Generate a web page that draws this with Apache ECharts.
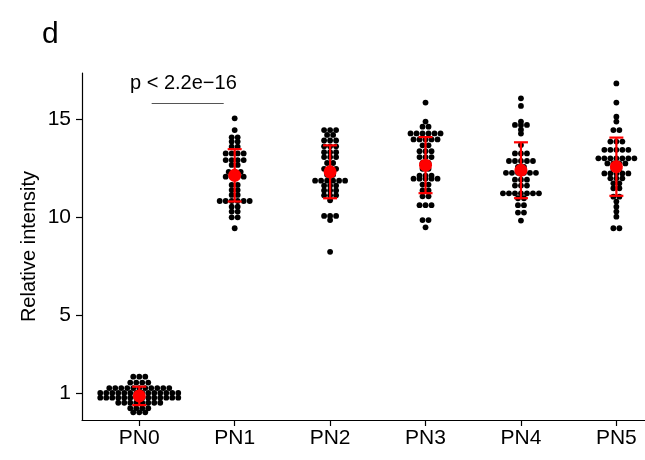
<!DOCTYPE html>
<html>
<head>
<meta charset="utf-8">
<script src="https://cdn.jsdelivr.net/npm/echarts@6/dist/echarts.min.js"></script>
<style>
  html, body { margin: 0; padding: 0; background: #fff; }
  #chart { width: 645px; height: 460px; }
</style>
</head>
<body>
<div id="chart"></div>
<script>
// Groups shown along the x axis
const groups = ['PN0', 'PN1', 'PN2', 'PN3', 'PN4', 'PN5'];

// Relative intensity of each measured cell; equal values share one row of the dot plot
const pn0 = [
  1.85, 1.85, 1.85,
  1.55, 1.55, 1.55, 1.55,
  1.27, 1.27, 1.27, 1.27, 1.27, 1.27, 1.27, 1.27, 1.27, 1.27, 1.27,
  1.02, 1.02, 1.02, 1.02, 1.02, 1.02, 1.02, 1.02, 1.02, 1.02, 1.02, 1.02, 1.02, 1.02,
  0.78, 0.78, 0.78, 0.78, 0.78, 0.78, 0.78, 0.78, 0.78, 0.78, 0.78, 0.78, 0.78, 0.78,
  0.52, 0.52, 0.52, 0.52, 0.52, 0.52, 0.52, 0.52,
  0.24, 0.24, 0.24, 0.24,
  0.03, 0.03, 0.03
];
const pn1 = [
  15.03, 14.43, 14.06, 14.06, 13.84, 13.84, 13.58, 13.58,
  13.24, 13.24, 13.24, 13.24, 12.9, 12.9, 12.9, 12.9,
  12.65, 12.65, 12.3, 12.3, 12.3, 12.05, 12.05, 12.05, 12.05,
  11.63, 11.63, 11.37, 11.37, 11.12, 11.12,
  10.81, 10.81, 10.81, 10.81, 10.81, 10.81,
  10.52, 10.52, 10.27, 10.27, 9.98, 9.98, 9.42
];
const pn2 = [
  14.43, 14.43, 14.43, 14.18, 14.18, 13.9, 13.9, 13.9,
  13.6, 13.6, 13.6, 13.3, 13.3, 13.3, 13.05, 13.05, 13.05,
  12.75, 12.75, 12.45, 12.45, 12.45, 12.15, 12.15,
  11.85, 11.85, 11.85, 11.85, 11.85, 11.85,
  11.6, 11.6, 11.6, 11.35, 11.35, 11.35, 11.1, 11.1, 11.1,
  10.85, 10.05, 10.05, 10.05, 9.84, 8.22
];
const pn3 = [
  15.83, 14.86, 14.6, 14.6,
  14.26, 14.26, 14.26, 14.26, 14.26, 14.26,
  13.95, 13.95, 13.95, 13.95, 13.95,
  13.65, 13.65, 13.35, 13.35, 13.35, 13.05, 13.05, 13.05,
  12.75, 12.75, 12.45, 12.45, 12.1, 12.1, 12.1,
  11.95, 11.95, 11.95, 11.95, 11.95,
  11.65, 11.65, 11.35, 11.35, 11.05, 11.05,
  10.6, 10.6, 10.6, 9.84, 9.84, 9.47
];
const pn4 = [
  16.05, 15.66, 14.86, 14.69, 14.69, 14.69, 14.45, 14.25, 13.67,
  13.24, 13.24, 13.24, 12.85, 12.85, 12.85, 12.85, 12.85,
  12.55, 12.55, 12.25, 12.25, 12.25, 12.25, 12.25, 12.25,
  11.9, 11.9, 11.9, 11.6, 11.6, 11.6,
  11.2, 11.2, 11.2, 11.2, 11.2, 11.2, 11.2,
  10.95, 10.95, 10.6, 10.6, 10.22, 10.22, 9.81
];
const pn5 = [
  16.81, 15.83, 15.11, 14.86, 14.43, 14.43,
  13.84, 13.84, 13.84, 13.42, 13.42, 13.42, 13.42, 13.42,
  12.99, 12.99, 12.99, 12.99, 12.99, 12.99, 12.99,
  12.73, 12.73, 12.73, 12.73, 12.45, 12.45,
  12.22, 12.22, 12.22, 12.22, 12.22, 11.97, 11.97, 11.97,
  11.71, 11.71, 11.46, 11.46, 11.03, 11.03,
  10.78, 10.52, 10.27, 10.01, 9.42, 9.42
];
const groupValues = [pn0, pn1, pn2, pn3, pn4, pn5];

// Group mean and standard deviation (red point and error bar)
const means = [0.87, 12.12, 12.3, 12.64, 12.38, 12.56];
const sds = [0.47, 1.335, 1.35, 1.43, 1.425, 1.485];

// Tick values
const yTicks = [1, 5, 10, 15];
const xTicks = [0, 1, 2, 3, 4, 5];

// Significance annotation
const pLabel = 'p < 2.2e\u221216';
const pBracket = { from: 0.13, to: 0.885, y: 15.81 };

// ---- dot plot layout: dots with equal value are stacked side by side, centred on the group ----
const DOT_SIZE = 5.8;
const DOT_STEP = 6;
const dots = [];
groupValues.forEach((vals, g) => {
  const rows = new Map();
  vals.forEach(v => rows.set(v, (rows.get(v) || 0) + 1));
  rows.forEach((n, v) => {
    for (let k = 0; k < n; k++) {
      dots.push({ value: [g, v], symbolOffset: [(k - (n - 1) / 2) * DOT_STEP, 0] });
    }
  });
});

const summary = means.map((m, g) => [g, m, m - sds[g], m + sds[g]]);

const FONT = 'Liberation Sans, Arial, Helvetica, sans-serif';
const chart = echarts.init(document.getElementById('chart'), null, { renderer: 'canvas' });

chart.setOption({
  backgroundColor: '#ffffff',
  animation: false,
  grid: { left: 82, right: 0, top: 73, bottom: 40, containLabel: false, outerBoundsMode: 'none' },
  xAxis: {
    type: 'value',
    min: -0.6,
    max: 5.3,
    splitLine: { show: false },
    axisLine: { show: true, onZero: false, lineStyle: { color: '#000', width: 1.2 } },
    axisTick: { show: true, length: 6, customValues: xTicks, lineStyle: { color: '#000', width: 1.2 } },
    axisLabel: {
      customValues: xTicks,
      formatter: v => groups[Math.round(v)],
      color: '#000',
      fontFamily: FONT,
      fontSize: 21,
      margin: 8
    }
  },
  yAxis: {
    type: 'value',
    min: -0.36,
    max: 17.34,
    name: 'Relative intensity',
    nameLocation: 'middle',
    nameGap: 43,
    nameMoveOverlap: false,
    nameTextStyle: { color: '#000', fontFamily: FONT, fontSize: 20 },
    splitLine: { show: false },
    axisLine: { show: true, onZero: false, lineStyle: { color: '#000', width: 1.2 } },
    axisTick: { show: true, length: 6, customValues: yTicks, lineStyle: { color: '#000', width: 1.2 } },
    axisLabel: {
      customValues: yTicks,
      color: '#000',
      fontFamily: FONT,
      fontSize: 21,
      margin: 11
    }
  },
  graphic: [
    { type: 'text', left: 42, top: 20, style: { text: 'd', fontFamily: FONT, fontSize: 30, fill: '#000' } },
    { type: 'text', left: 130, top: 73, style: { text: pLabel, fontFamily: FONT, fontSize: 20, fill: '#000' } }
  ],
  series: [
    {
      type: 'scatter',
      symbol: 'circle',
      symbolSize: DOT_SIZE,
      itemStyle: { color: '#000', opacity: 1 },
      data: dots,
      z: 2,
      markLine: {
        silent: true,
        symbol: ['none', 'none'],
        label: { show: false },
        lineStyle: { color: '#555', width: 1, type: 'solid' },
        data: [[{ coord: [pBracket.from, pBracket.y] }, { coord: [pBracket.to, pBracket.y] }]]
      }
    },
    {
      type: 'custom',
      z: 3,
      data: summary,
      renderItem(params, api) {
        const g = api.value(0);
        const lo = api.coord([g, api.value(2)]);
        const hi = api.coord([g, api.value(3)]);
        const half = 7;
        const ls = { stroke: '#ff0000', lineWidth: 2.2 };
        return {
          type: 'group',
          children: [
            { type: 'line', shape: { x1: lo[0], y1: lo[1], x2: hi[0], y2: hi[1] }, style: ls },
            { type: 'line', shape: { x1: lo[0] - half, y1: lo[1], x2: lo[0] + half, y2: lo[1] }, style: ls },
            { type: 'line', shape: { x1: hi[0] - half, y1: hi[1], x2: hi[0] + half, y2: hi[1] }, style: ls }
          ]
        };
      }
    },
    {
      type: 'scatter',
      symbol: 'circle',
      symbolSize: 13,
      itemStyle: { color: '#ff0000', opacity: 1 },
      z: 4,
      data: summary.map(s => [s[0], s[1]])
    }
  ]
});
</script>
</body>
</html>
